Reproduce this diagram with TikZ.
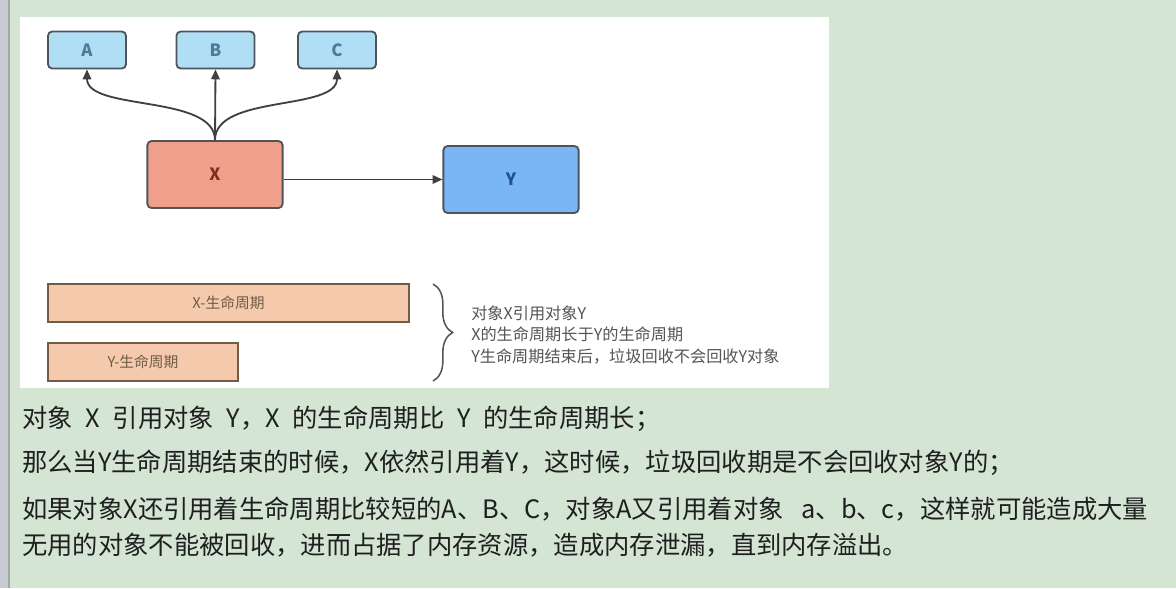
\documentclass[tikz,border=0pt]{standalone}
\usepackage{fontspec}
\setmainfont{Noto Sans CJK SC}
\usetikzlibrary{arrows.meta, positioning, decorations.pathreplacing}

\definecolor{pagegreen}{RGB}{212,229,212}
\definecolor{sidegray}{RGB}{200,203,212}
\definecolor{refblue}{RGB}{176,222,245}
\definecolor{reftext}{RGB}{82,120,150}
\definecolor{holdred}{RGB}{240,160,138}
\definecolor{holdtext}{RGB}{125,48,32}
\definecolor{heldblue}{RGB}{122,182,245}
\definecolor{heldtext}{RGB}{38,78,138}
\definecolor{lifepeach}{RGB}{245,202,172}
\definecolor{edgegray}{RGB}{78,84,90}
\definecolor{notegray}{RGB}{85,85,85}
\newcommand{\wsp}{\hspace{0.5em}}

\begin{document}
\begin{tikzpicture}[x=0.025cm, y=-0.025cm,
    obj/.style={rectangle, draw=edgegray, line width=1.3pt,
    rounded corners=3pt, inner sep=0pt,
    font=\fontsize{12}{14}\selectfont\bfseries},
    ref/.style={obj, fill=refblue, text=reftext,
    minimum width=1.95cm, minimum height=0.925cm},
    big/.style={obj, minimum width=3.38cm, minimum height=1.675cm},
    life/.style={rectangle, draw=brown!40!black!80, line width=1.4pt,
    fill=lifepeach, inner sep=0pt, minimum height=0.95cm,
    text=brown!40!black!80, font=\fontsize{10.5}{12}\selectfont},
    arrow/.style={-{Triangle[length=7pt, width=6pt]}, line width=1.3pt,
    draw=black!75},
    body/.style={anchor=west, inner sep=0pt, text=black!88,
    font=\fontsize{18}{20}\selectfont} ]

    \useasboundingbox (0,0) rectangle (1176,588);

    % Page and picture area
    \fill[pagegreen] (0,0) rectangle (1176,588);
    \fill[sidegray] (0,0) rectangle (8,588);
    \draw[gray!70, line width=1pt] (9,0) -- (9,588);
    \fill[white] (20,17) rectangle (829,388);

    % Referenced objects
    \node[ref] (a) at (87,50) {A};
    \node[ref] (b) at (215.5,50) {B};
    \node[ref] (c) at (337,50) {C};

    % X holds Y
    \node[big, fill=holdred, text=holdtext] (x) at (215,174.5) {X};
    \node[big, fill=heldblue, text=heldtext] (y) at (511,179.5) {Y};

    % Arrows from X
    \draw[arrow] (x.north) .. controls +(0,-46) and +(0,42) .. (a.south);
    \draw[arrow] (x.north) -- (b.south);
    \draw[arrow] (x.north) .. controls +(0,-46) and +(0,42) .. (c.south);
    \draw[arrow, line width=1.1pt] (x.east |- y.west) -- (y.west);

    % Life cycles
    \node[life, minimum width=9.03cm] (xlife) at (228.5,303) {X-生命周期};
    \node[life, minimum width=4.75cm] (ylife) at (143,362) {Y-生命周期};

    \draw[notegray, line width=1.1pt, decorate,
      decoration={brace, amplitude=14pt}] (433,284) -- (433,381);
    \node[anchor=west, inner sep=0pt, align=left, text=notegray,
      font=\fontsize{11.5}{15.3}\selectfont] (note) at (471,335)
      {对象X引用对象Y\\X的生命周期长于Y的生命周期\\Y生命周期结束后，垃圾回收不会回收Y对象};

    % Text below the picture
    \node[body] (line1) at (22,419)
      {对象\wsp X\wsp 引用对象\wsp Y，X\wsp 的生命周期比\wsp Y\wsp 的生命周期长；};
    \node[body] (line2) at (22,463)
      {那么当Y生命周期结束的时候，X依然引用着Y，这时候，垃圾回收期是不会回收对象Y的；};
    \node[body] (line3) at (22,509)
      {如果对象X还引用着生命周期比较短的A、B、C，对象A又引用着对象\hspace{0.7em}a、b、c，这样就可能造成大量};
    \node[body] (line4) at (22,545)
      {无用的对象不能被回收，进而占据了内存资源，造成内存泄漏，直到内存溢出。};

  \end{tikzpicture}
\end{document}
